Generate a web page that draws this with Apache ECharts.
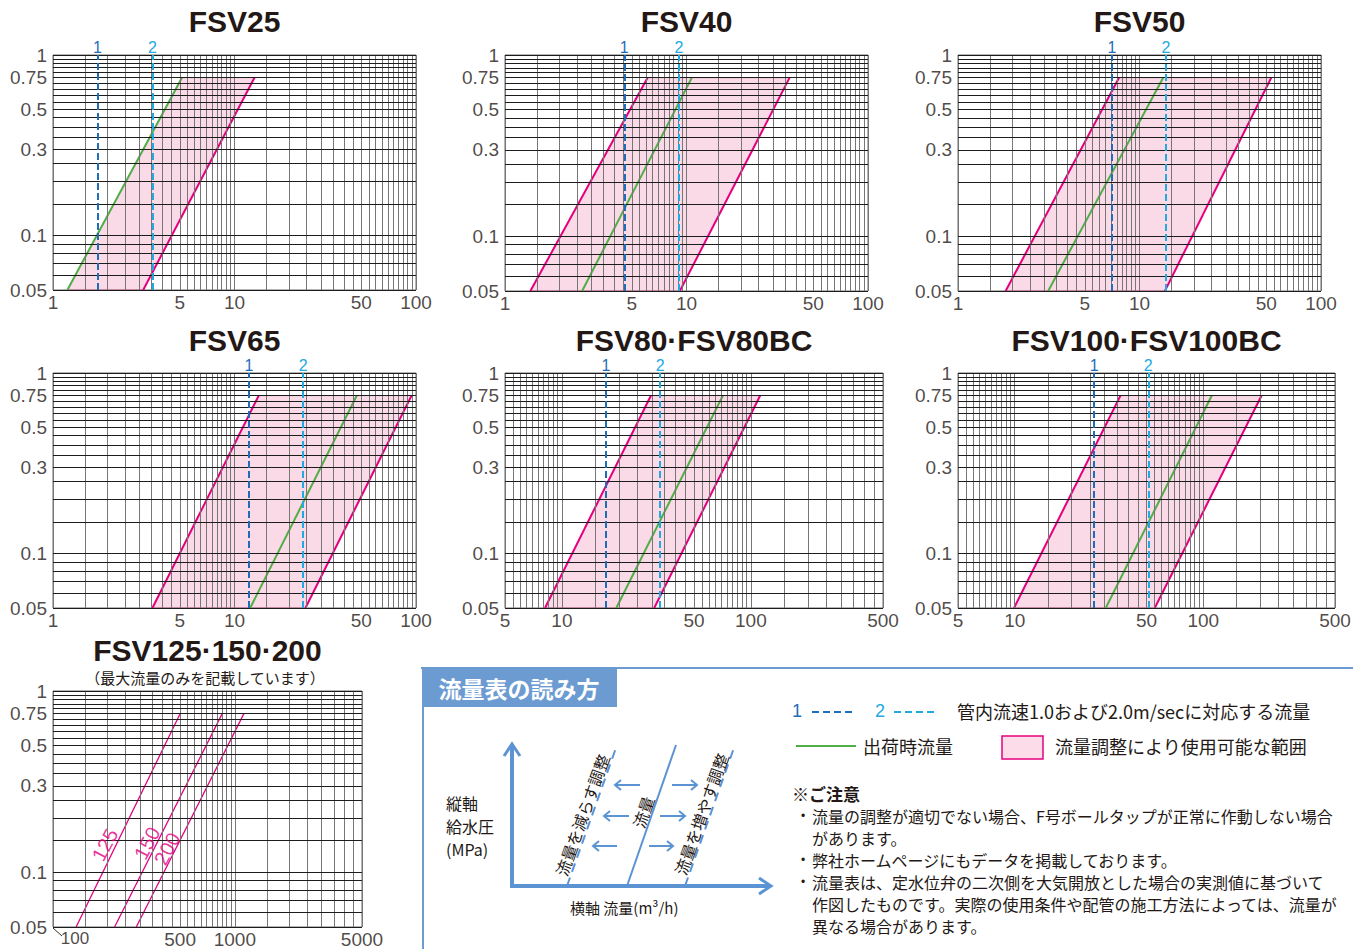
<!DOCTYPE html>
<html><head><meta charset="utf-8">
<script src="https://cdn.jsdelivr.net/npm/echarts@6/dist/echarts.min.js"></script>
<style>html,body{margin:0;padding:0;background:#fff}#c{width:1353px;height:949px}</style>
</head><body><div id="c"></div>
<script>
// ---------- data ----------
const chartTitles = ['FSV25','FSV40','FSV50','FSV65','FSV80·FSV80BC','FSV100·FSV100BC','FSV125·150·200'];
const chartSubtitle = '（最大流量のみを記載しています）';
const flowRanges = [[1,100],[1,100],[1,100],[1,100],[5,500],[5,500],[100,5000]];
const pressureRange = [0.05, 1];
const flowTickLabels = [
  [1,5,10,50,100],[1,5,10,50,100],[1,5,10,50,100],[1,5,10,50,100],
  [5,10,50,100,500],[5,10,50,100,500],[500,1000,5000]];
const largeFirstTick = 100;
const pressureTickLabels = [0.05,0.1,0.3,0.5,0.75,1];
const linePressures = [0.05, 0.75];           // each line runs from 0.05 MPa to 0.75 MPa
// flow (m3/h) at 0.05 MPa and at 0.75 MPa
const shipFlow   = [[1.20,5.14],[2.66,10.7],[3.14,13.5],[12.2,47.2],[19.4,71.1],[30.4,111]];
const minAdjFlow = [[1.20,5.14],[1.38,6.10],[1.83,7.71],[3.53,13.6],[8.14,29.6],[9.91,36.4]];
const maxAdjFlow = [[3.14,12.9],[9.19,37.0],[13.8,53.2],[24.6,94.6],[30.8,112],[55.3,204]];
const minAdjLineShown = [false,true,true,true,true,true];
const speed1Flow = [1.76,4.54,7.05,12.0,17.1,26.4];
const speed2Flow = [3.53,9.08,14.0,23.9,33.1,51.1];
const largeSizes = ['125','150','200'];
const largeMaxFlow = [[134,500],[218,852],[287,1121]];
const largeLabelAt = [[193,0.142],[329,0.145],[424,0.135]];

const legendTexts = {
  speed: '管内流速1.0および2.0m/secに対応する流量',
  ship: '出荷時流量',
  range: '流量調整により使用可能な範囲',
  header: '流量表の読み方',
  caution: '※ご注意'
};
const noteLines = [
  [true,'流量の調整が適切でない場合、F号ボールタップが正常に作動しない場合'],
  [false,'があります。'],
  [true,'弊社ホームページにもデータを掲載しております。'],
  [true,'流量表は、定水位弁の二次側を大気開放とした場合の実測値に基づいて'],
  [false,'作図したものです。実際の使用条件や配管の施工方法によっては、流量が'],
  [false,'異なる場合があります。']
];
const diagramTexts = {
  yAxis: ['縦軸','給水圧','(MPa)'],
  xAxis: '横軸 流量(m³/h)',
  less: '流量を減らす調整',
  flow: '流量',
  more: '流量を増やす調整'
};

// ---------- layout / style ----------
const boxes = [
  {left:53, top:55, width:363, height:235},
  {left:505, top:55, width:363, height:236},
  {left:958, top:55, width:363, height:236},
  {left:53, top:373, width:363, height:235},
  {left:505, top:373, width:378, height:235},
  {left:958, top:373, width:377, height:235},
  {left:53, top:691, width:309, height:236}
];
const titleY = [21,21,21,340,340,340,650];
const MAG = '#e5007f', GRN = '#4fae46', DBLUE = '#1f6db8', LBLUE = '#21a9e1', PANEL = '#6c9bd2';
const TXT = '#231815';
const NUMFONT = '"Liberation Sans", Arial, sans-serif';
const JPFONT = '"Noto Sans CJK JP", sans-serif';

function rulings(min, max) {
  const out = [];
  let base = Math.pow(10, Math.floor(Math.log10(min) + 1e-9));
  while (base <= max * 1.0001) {
    for (let k = 2; k <= 20; k++) {
      const v = Number((base * k / 2).toPrecision(6));
      if (v >= min * 0.9999 && v <= max * 1.0001 && out.indexOf(v) < 0) out.push(v);
    }
    base *= 10;
  }
  return out;
}
function seg(flows) { return [[flows[0], linePressures[0]], [flows[1], linePressures[1]]]; }

const grids = [], xAxes = [], yAxes = [], series = [];
boxes.forEach((b, i) => {
  grids.push(Object.assign({show:true, borderColor:'#6a6a6a', borderWidth:1, containLabel:false}, b));
  xAxes.push({type:'log', logBase:10, gridIndex:i, min:flowRanges[i][0], max:flowRanges[i][1],
    axisLine:{show:false}, axisTick:{show:false}, axisLabel:{show:false}, splitLine:{show:false}});
  yAxes.push({type:'log', logBase:10, gridIndex:i, min:pressureRange[0], max:pressureRange[1],
    axisLine:{show:false}, axisTick:{show:false}, axisLabel:{show:false}, splitLine:{show:false}});
  const ax = {xAxisIndex:i, yAxisIndex:i};
  // ruled grid
  const xr = rulings(flowRanges[i][0], flowRanges[i][1]);
  const yr = rulings(pressureRange[0], pressureRange[1]);
  series.push(Object.assign({type:'line', data:[[flowRanges[i][0], pressureRange[0]]], showSymbol:false,
    lineStyle:{opacity:0}, silent:true, z:1,
    markLine:{silent:true, symbol:['none','none'], animation:false, label:{show:false},
      lineStyle:{type:'solid', width:1},
      data: xr.map(v => ({xAxis:v, lineStyle:{color:'#767676', width:1}}))
        .concat(yr.map(v => ({yAxis:v, lineStyle:{color:'#1c1c1c', width:1}})))}}, ax));
  if (i < 6) {
    const mn = minAdjFlow[i], mx = maxAdjFlow[i];
    series.push(Object.assign({type:'custom', z:2, silent:true, data:[[mn[0], linePressures[0]]],
      renderItem: (p, api) => {
        const pts = [api.coord([mn[0], linePressures[0]]), api.coord([mx[0], linePressures[0]]),
                     api.coord([mx[1], linePressures[1]]), api.coord([mn[1], linePressures[1]])];
        return {type:'polygon', shape:{points:pts}, style:{fill:'rgba(238,120,165,0.27)', stroke:'rgba(190,70,120,0.6)', lineWidth:1}};
      }}, ax));
    series.push(Object.assign({type:'line', data:seg(shipFlow[i]), showSymbol:false, silent:true, z:3,
      lineStyle:{color:GRN, width:2}}, ax));
    series.push(Object.assign({type:'line', data:seg(mx), showSymbol:false, silent:true, z:3,
      lineStyle:{color:MAG, width:2}}, ax));
    if (minAdjLineShown[i]) series.push(Object.assign({type:'line', data:seg(mn), showSymbol:false, silent:true, z:3,
      lineStyle:{color:MAG, width:2}}, ax));
    series.push(Object.assign({type:'line', data:[[flowRanges[i][0], pressureRange[0]]], showSymbol:false,
      lineStyle:{opacity:0}, silent:true, z:4,
      markLine:{silent:true, symbol:['none','none'], animation:false,
        lineStyle:{type:[7,3], width:2},
        label:{show:true, position:'end', distance:0, fontSize:16, fontFamily:NUMFONT},
        data:[
          {xAxis:speed1Flow[i], lineStyle:{color:DBLUE}, label:{formatter:'1', color:DBLUE}},
          {xAxis:speed2Flow[i], lineStyle:{color:LBLUE}, label:{formatter:'2', color:LBLUE}}
        ]}}, ax));
  } else {
    largeMaxFlow.forEach(f => series.push(Object.assign({type:'line', data:seg(f), showSymbol:false, silent:true, z:3,
      lineStyle:{color:MAG, width:1.3}}, ax)));
    series.push(Object.assign({type:'scatter', symbolSize:0, silent:true, z:5, clip:false,
      data: largeLabelAt.map((p, k) => ({value:p, label:{show:true, position:'inside', formatter:largeSizes[k],
        rotate:62, color:MAG, fontSize:20, fontFamily:NUMFONT}}))}, ax));
  }
  // tick labels
  const lab = [];
  flowTickLabels[i].forEach(v => lab.push({value:[v, pressureRange[0]], label:{position:'bottom', distance:3, formatter:String(v)}}));
  if (i === 6) lab.push({value:[largeFirstTick, pressureRange[0]], label:{position:'bottom', distance:2, offset:[22,1], fontSize:17, formatter:String(largeFirstTick)}});
  pressureTickLabels.forEach(v => lab.push({value:[flowRanges[i][0], v], label:{position:'left', distance:6, formatter:String(v)}}));
  series.push(Object.assign({type:'scatter', symbolSize:0, silent:true, z:5, clip:false, data:lab,
    label:{show:true, color:TXT, fontSize:19, fontFamily:NUMFONT}}, ax));
});

// ---------- graphic: titles + explanation panel ----------
function T(x, y, text, font, fill, align, extra) {
  return Object.assign({type:'text', x:x, y:y, silent:true,
    style:{text:text, font:font, fill:fill||TXT, textAlign:align||'left', align:align||'left',
      textVerticalAlign:'middle', verticalAlign:'middle'}}, extra||{});
}
function L(x1,y1,x2,y2,stroke,w,dash) {
  return {type:'line', silent:true, shape:{x1,y1,x2,y2}, style:{stroke, lineWidth:w, lineDash:dash||null}};
}
function P(points, stroke, w) {
  return {type:'polyline', silent:true, shape:{points}, style:{stroke, lineWidth:w, fill:null, lineJoin:'miter'}};
}
const g = [];
chartTitles.forEach((t, i) => g.push(T(boxes[i].left + boxes[i].width/2, titleY[i], t, 'bold 30px ' + NUMFONT, TXT, 'center')));
g.push(T(205, 677, chartSubtitle, '15px ' + JPFONT, TXT, 'center'));
g.push(L(53, 928, 62, 936, '#333', 1));
// panel frame
g.push(L(421, 668, 1353, 668, PANEL, 2));
g.push(L(423, 668, 423, 949, PANEL, 2));
g.push({type:'rect', silent:true, shape:{x:422, y:668, width:195, height:39}, style:{fill:PANEL}});
g.push(T(519, 688, legendTexts.header, 'bold 23px ' + JPFONT, '#fff', 'center'));
// legend
g.push(T(797, 711, '1', '18px ' + NUMFONT, DBLUE, 'center'));
g.push(L(812, 712, 856, 712, DBLUE, 2, [7,4]));
g.push(T(880, 711, '2', '18px ' + NUMFONT, LBLUE, 'center'));
g.push(L(894, 712, 938, 712, LBLUE, 2, [7,4]));
g.push(T(957, 711, legendTexts.speed, '18px ' + JPFONT, TXT));
g.push(L(796, 746, 856, 746, GRN, 2));
g.push(T(863, 746, legendTexts.ship, '18px ' + JPFONT, TXT));
g.push({type:'rect', silent:true, shape:{x:1002, y:736, width:41, height:23}, style:{fill:'#fbdce8', stroke:MAG, lineWidth:1.5}});
g.push(T(1055, 746, legendTexts.range, '18px ' + JPFONT, TXT));
// cautions
g.push(T(792, 793, legendTexts.caution, 'bold 17px ' + JPFONT, TXT));
const noteY = [816, 838, 860, 882, 904, 926];
noteLines.forEach((n, k) => {
  if (n[0]) g.push(T(803, noteY[k], '•', '12px ' + NUMFONT, TXT, 'center'));
  g.push(T(812, noteY[k], n[1], '16px ' + JPFONT, TXT));
});
// diagram
const DB = '#5b93d3';
g.push(L(512, 886, 512, 745, DB, 4));
g.push(P([[504,756],[512,744],[520,756]], DB, 3));
g.push(L(510, 886, 770, 886, DB, 4));
g.push(P([[759,878],[771,886],[759,894]], DB, 3));
g.push(L(627, 886, 676, 745, DB, 2));
g.push(L(567, 886, 617, 745, DB, 2, [9,6]));
g.push(L(685, 886, 735, 745, DB, 2, [9,6]));
[[640,615,785],[629,604,816],[617,593,846]].forEach(a => {
  g.push(L(a[0], a[2], a[1], a[2], DB, 2));
  g.push(P([[a[1]+6,a[2]-5],[a[1],a[2]],[a[1]+6,a[2]+5]], DB, 2));
});
[[672,697,785],[660,685,816],[649,673,846]].forEach(a => {
  g.push(L(a[0], a[2], a[1], a[2], DB, 2));
  g.push(P([[a[1]-6,a[2]-5],[a[1],a[2]],[a[1]-6,a[2]+5]], DB, 2));
});
const rot = 70.3 * Math.PI / 180;
g.push(T(582, 815, diagramTexts.less, '16px ' + JPFONT, TXT, 'center', {rotation:rot}));
g.push(T(643, 812, diagramTexts.flow, '16px ' + JPFONT, TXT, 'center', {rotation:rot}));
g.push(T(701, 814, diagramTexts.more, '16px ' + JPFONT, TXT, 'center', {rotation:rot}));
diagramTexts.yAxis.forEach((t, k) => g.push(T(446, 803 + k*23, t, '16px ' + JPFONT, TXT)));
g.push(T(570, 907, diagramTexts.xAxis, '15px ' + JPFONT, TXT));

const chart = echarts.init(document.getElementById('c'), null, {renderer:'svg'});
chart.setOption({
  animation:false,
  backgroundColor:'#fff',
  grid:grids, xAxis:xAxes, yAxis:yAxes, series:series, graphic:g
});
</script></body></html>
